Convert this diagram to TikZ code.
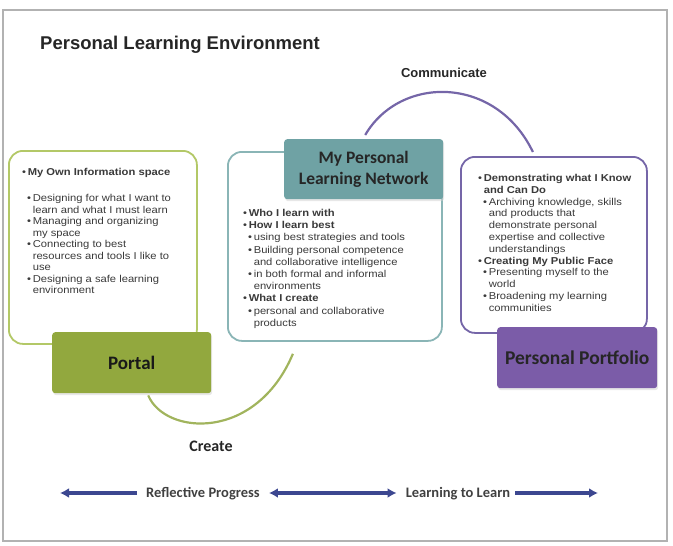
\documentclass[tikz,border=0pt]{standalone}
\usepackage{fontspec}
\setmainfont{Liberation Sans}
\newfontfamily\calfont{Carlito}
\newfontfamily\boxfont[FakeStretch=1.12]{Liberation Sans}
\usetikzlibrary{arrows.meta, positioning, shadows}

\definecolor{plegreen}{HTML}{92A83E}
\definecolor{plegreenline}{HTML}{B3C867}
\definecolor{pleteal}{HTML}{6FA2A4}
\definecolor{pletealline}{HTML}{8AB5B6}
\definecolor{plepurple}{HTML}{7B5CA8}
\definecolor{plepurpleline}{HTML}{7566A8}
\definecolor{plenavy}{HTML}{3C4790}
\definecolor{pletext}{HTML}{3A3A3A}

\newcommand{\lvlone}[1]{\textbullet\,\textbf{#1}}
\newcommand{\lvltwo}[1]{\hspace*{5pt}\textbullet\,#1}
\newcommand{\lvlcont}[1]{\hspace*{5pt}\phantom{\textbullet\,}#1}

\begin{document}
\begin{tikzpicture}[
            x=1pt, y=-1pt,
            every node/.style={inner sep=0pt},
            frame/.style={
                    draw,
                    line width=1.8pt,
                    rounded corners=14pt,
                    fill=white,
                    anchor=north west
                },
            titlebox/.style={
                    rounded corners=3pt,
                    anchor=north west,
                    align=center,
                    drop shadow={shadow xshift=1pt, shadow yshift=-2pt, fill=black!18}
                },
            boxtext/.style={
                    anchor=north west,
                    align=left,
                    text=pletext
                },
            cycle/.style={line width=2.2pt},
            progress/.style={
                    plenavy,
                    line width=3.4pt,
                    -{Latex[length=9pt,width=10pt]}
                },
            caption/.style={font=\calfont\bfseries\fontsize{14.5}{17}\selectfont, text=black!75}
        ]

        \useasboundingbox (0,0) rectangle (673,546);
        \draw[black!30, line width=1.2pt] (3,10) rectangle (667,541);

        \node[anchor=west, font=\bfseries\fontsize{18.5}{22}\selectfont, text=black!85] (title)
        at (40,45) {Personal Learning Environment};

        % outline boxes
        \node[frame, draw=plegreenline, minimum width=188pt, minimum height=193pt] (ownframe) at (8,150) {};
        \node[frame, draw=pletealline, minimum width=214pt, minimum height=189pt] (plnframe) at (227,151) {};
        \node[frame, draw=plepurpleline, minimum width=186pt, minimum height=176pt] (portfolioframe) at (460,156) {};

        % filled title boxes
        \node[titlebox, fill=plegreen, minimum width=159pt, minimum height=61pt,
            font=\calfont\bfseries\fontsize{19}{22}\selectfont, text=black!90] (portal)
        at (52,332) {Portal};

        \node[titlebox, fill=pleteal, minimum width=159pt, minimum height=60pt,
            font=\calfont\bfseries\fontsize{17.5}{21}\selectfont, text=black!85] (plnhead)
        at (284,139) {My Personal\\Learning Network};

        \node[titlebox, fill=plepurple, minimum width=160pt, minimum height=61pt,
            font=\calfont\bfseries\fontsize{19.5}{22}\selectfont, text=black!85] (portfolio)
        at (497,327) {Personal Portfolio};

        % box contents
        \node[boxtext, font=\boxfont\fontsize{10}{11.5}\selectfont] (ownlist) at (22,168)
        {
            \lvlone{My Own Information space}\\[15pt]
            \lvltwo{Designing for what I want to}\\
            \lvlcont{learn and what I must learn}\\
            \lvltwo{Managing and organizing}\\
            \lvlcont{my space}\\
            \lvltwo{Connecting to best}\\
            \lvlcont{resources and tools I like to}\\
            \lvlcont{use}\\
            \lvltwo{Designing a safe learning}\\
            \lvlcont{environment}
        };

        \node[boxtext, font=\boxfont\fontsize{10}{12.2}\selectfont] (plnlist) at (243,209)
        {
            \lvlone{Who I learn with}\\
            \lvlone{How I learn best}\\
            \lvltwo{using best strategies and tools}\\
            \lvltwo{Building personal competence}\\
            \lvlcont{and collaborative intelligence}\\
            \lvltwo{in both formal and informal}\\
            \lvlcont{environments}\\
            \lvlone{What I create}\\
            \lvltwo{personal and collaborative}\\
            \lvlcont{products}
        };

        \node[boxtext, font=\boxfont\fontsize{10}{11.8}\selectfont] (portfoliolist) at (478,174)
        {
            \lvlone{Demonstrating what I Know}\\
            \phantom{\textbullet\,}\textbf{and Can Do}\\
            \lvltwo{Archiving knowledge, skills}\\
            \lvlcont{and products that}\\
            \lvlcont{demonstrate personal}\\
            \lvlcont{expertise and collective}\\
            \lvlcont{understandings}\\
            \lvlone{Creating My Public Face}\\
            \lvltwo{Presenting myself to the}\\
            \lvlcont{world}\\
            \lvltwo{Broadening my learning}\\
            \lvlcont{communities}
        };

        % cycle arcs
        \node[font=\bfseries\fontsize{13}{15}\selectfont, text=black!85] (communicate) at (444,73) {Communicate};
        \node[font=\calfont\bfseries\fontsize{16}{18}\selectfont, text=black!85] (create) at (211,446) {Create};

        \draw[cycle, plepurpleline] ([xshift=1.5pt,yshift=4pt]plnhead.north)
        .. controls +(35,-60) and +(-37,-77) .. ([xshift=-21pt,yshift=4pt]portfolioframe.north);
        \draw[cycle, plegreenline!90!black] ([xshift=16.5pt,yshift=-2pt]portal.south)
        .. controls +(17,40) and +(-37,88) .. ([xshift=-42pt,yshift=-12pt]plnframe.south);

        % progress line
        \node[caption] (reflect) at (203,494) {Reflective Progress};
        \node[caption] (learn) at (458,494) {Learning to Learn};
        \coordinate (leftend) at (60,493);
        \coordinate (rightend) at (598,493);

        \draw[progress] ([xshift=-9pt,yshift=1pt]reflect.west) -- (leftend);
        \draw[progress, {Latex[length=9pt,width=10pt]}-{Latex[length=9pt,width=10pt]}]
        ([xshift=9pt,yshift=1pt]reflect.east) -- ([xshift=-9pt,yshift=1pt]learn.west);
        \draw[progress] ([xshift=5pt,yshift=1pt]learn.east) -- (rightend);

    \end{tikzpicture}
\end{document}
